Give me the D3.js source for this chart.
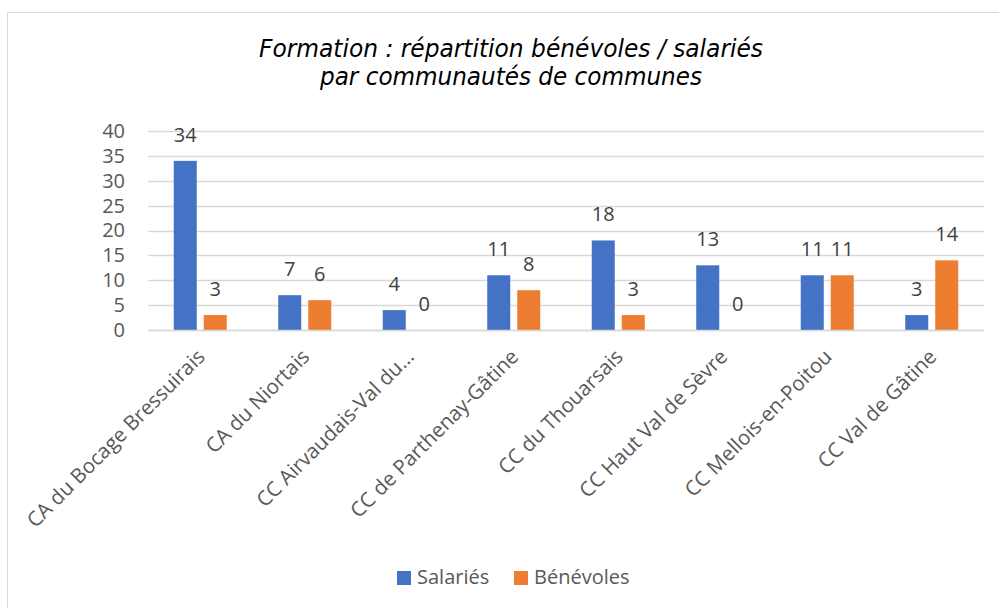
<!DOCTYPE html>
<html>
  <head>
    <meta charset="UTF-8" />
    <title>Formation : répartition bénévoles / salariés</title>
    <style>
      body { margin: 0; background: #fff; }
      text { font-family: "Open Sans", "Noto Sans", sans-serif; }
    </style>
  </head>
  <body>
    <svg width="999" height="608"></svg>

    <script src="https://d3js.org/d3.v7.min.js"></script>
    <script>
      // données
      const categories = [
        "CA du Bocage Bressuirais",
        "CA du Niortais",
        "CC Airvaudais-Val du…",
        "CC de Parthenay-Gâtine",
        "CC du Thouarsais",
        "CC Haut Val de Sèvre",
        "CC Mellois-en-Poitou",
        "CC Val de Gâtine"
      ];
      const salaries = [34, 7, 4, 11, 18, 13, 11, 3];
      const benevoles = [3, 6, 0, 8, 3, 0, 11, 14];
      const seriesNames = ["Salariés", "Bénévoles"];
      const yTicks = [0, 5, 10, 15, 20, 25, 30, 35, 40];

      const colors = ["#4472C4", "#ED7D31"];

      const svg = d3.select("svg");

      // cadre
      svg.append("rect")
        .attr("x", 7.5).attr("y", 12.5)
        .attr("width", 1000).attr("height", 610)
        .attr("fill", "#fff")
        .attr("stroke", "#d9d9d9");

      // titre
      const title = svg.append("text")
        .attr("text-anchor", "middle")
        .attr("font-size", 24.5)
        .attr("font-style", "italic")
        .attr("fill", "#000")
        .style("font-family", "'DejaVu Sans Condensed', 'DejaVu Sans', sans-serif")
        .style("font-stretch", "condensed");
      title.append("tspan").attr("x", 511).attr("y", 57)
        .attr("textLength", 504).attr("lengthAdjust", "spacingAndGlyphs")
        .text("Formation : répartition bénévoles / salariés");
      title.append("tspan").attr("x", 511).attr("y", 85)
        .attr("textLength", 382).attr("lengthAdjust", "spacingAndGlyphs")
        .text("par communautés de communes");

      const plotLeft = 148, plotRight = 984, plotTop = 131, plotBottom = 330;

      const x = d3.scaleBand().domain(categories).range([plotLeft, plotRight]);
      const y = d3.scaleLinear().domain([0, 40]).range([plotBottom, plotTop]);

      // grille
      svg.append("g")
        .selectAll("line")
        .data(yTicks)
        .enter()
        .append("line")
        .attr("x1", plotLeft).attr("x2", plotRight)
        .attr("y1", (d) => Math.round(y(d)) + 0.5)
        .attr("y2", (d) => Math.round(y(d)) + 0.5)
        .attr("stroke", "#d9d9d9")
        .attr("stroke-width", 1.3);

      // axe y
      const yAxis = svg.append("g")
        .attr("transform", `translate(125,0)`)
        .call(d3.axisLeft(y).tickValues(yTicks).tickSize(0).tickPadding(0));
      yAxis.select(".domain").remove();
      yAxis.selectAll("text")
        .attr("font-size", 20)
        .attr("fill", "#595959")
        .style("font-family", "'Open Sans', sans-serif");

      // barres
      const inner = d3.scaleBand().domain([0, 1]).range([0, x.bandwidth()])
        .paddingInner(0.233).paddingOuter(0.858);
      const rows = [];
      categories.forEach((c, i) => {
        rows.push({ c, s: 0, v: salaries[i] });
        rows.push({ c, s: 1, v: benevoles[i] });
      });

      svg.append("g")
        .selectAll("rect")
        .data(rows)
        .enter()
        .append("rect")
        .attr("x", (d) => x(d.c) + inner(d.s))
        .attr("y", (d) => y(d.v))
        .attr("width", inner.bandwidth())
        .attr("height", (d) => y(0) - y(d.v))
        .attr("fill", (d) => colors[d.s]);

      // étiquettes de données
      svg.append("g")
        .selectAll("text")
        .data(rows)
        .enter()
        .append("text")
        .attr("x", (d) => x(d.c) + inner(d.s) + inner.bandwidth() / 2)
        .attr("y", (d) => y(d.v) - 19)
        .attr("text-anchor", "middle")
        .attr("font-size", 20)
        .attr("fill", "#404040")
        .text((d) => d.v);

      // axe x
      const xAxis = svg.append("g")
        .attr("transform", `translate(0,${plotBottom})`)
        .call(d3.axisBottom(x).tickSize(0).tickPadding(0));
      xAxis.select(".domain")
        .attr("stroke", "#d9d9d9")
        .attr("stroke-width", 1.5);
      xAxis.selectAll("text")
        .attr("font-size", 20.5)
        .attr("fill", "#595959")
        .attr("text-anchor", "end")
        .attr("dy", null)
        .attr("transform", "translate(6,28) rotate(-45)");

      // légende
      const legend = svg.append("g")
        .selectAll("g")
        .data(seriesNames)
        .enter()
        .append("g")
        .attr("transform", (d, i) => `translate(${397 + i * 117},571)`);
      legend.append("rect")
        .attr("width", 14).attr("height", 14)
        .attr("fill", (d, i) => colors[i]);
      legend.append("text")
        .attr("x", 20).attr("y", 13)
        .attr("font-size", 20)
        .attr("fill", "#595959")
        .text((d) => d);
    </script>
  </body>
</html>
